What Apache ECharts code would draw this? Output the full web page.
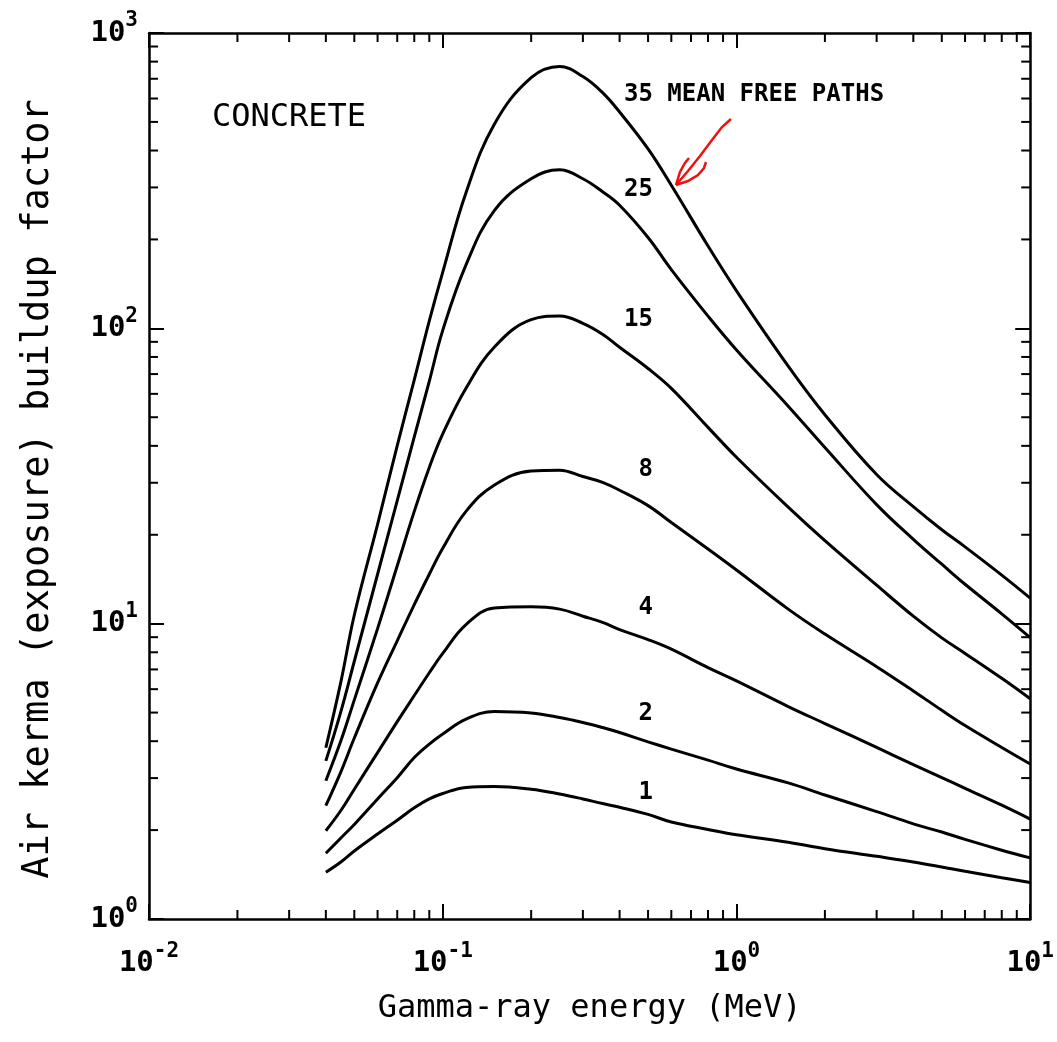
<!DOCTYPE html>
<html>
<head>
<meta charset="utf-8">
<script src="https://cdn.jsdelivr.net/npm/echarts@6/dist/echarts.min.js"></script>
<style>
  html, body { margin: 0; padding: 0; background: #fff; }
  #chart { width: 1057px; height: 1042px; }
</style>
</head>
<body>
<div id="chart"></div>
<script>
// gamma-ray energy (MeV)
const energies = [0.04, 0.045, 0.05, 0.06, 0.07, 0.08, 0.09, 0.1, 0.12, 0.15, 0.2, 0.25, 0.3, 0.35, 0.4,
                  0.5, 0.6, 0.8, 1, 1.5, 2, 3, 4, 5, 6, 8, 10];

// air kerma buildup factor in concrete, one list per thickness (mean free paths)
const mfp1  = [1.44, 1.56, 1.70, 1.94, 2.16, 2.38, 2.55, 2.66, 2.79, 2.81, 2.75, 2.65, 2.55, 2.46, 2.39,
               2.26, 2.13, 2.01, 1.93, 1.82, 1.73, 1.63, 1.56, 1.50, 1.45, 1.38, 1.33];
const mfp2  = [1.67, 1.88, 2.09, 2.55, 3.01, 3.52, 3.91, 4.23, 4.75, 5.04, 4.98, 4.81, 4.63, 4.45, 4.28,
               3.98, 3.76, 3.45, 3.22, 2.89, 2.63, 2.31, 2.10, 1.97, 1.86, 1.71, 1.61];
const mfp4  = [1.99, 2.33, 2.75, 3.66, 4.66, 5.71, 6.82, 7.93, 9.93, 11.3, 11.4, 11.2, 10.6, 10.1, 9.55,
               8.83, 8.2, 7.1, 6.4, 5.24, 4.59, 3.81, 3.33, 3.01, 2.77, 2.43, 2.18];
const mfp8  = [2.42, 3.15, 4.1, 6.3, 8.75, 11.6, 14.7, 18.0, 24.0, 29.5, 32.9, 33.1, 31.5, 30.1, 28.3,
               25.1, 22.0, 17.9, 15.2, 11.2, 9.22, 7.15, 5.92, 5.09, 4.52, 3.81, 3.35];
const mfp15 = [2.94, 4.01, 5.52, 9.62, 15.7, 24.0, 33.8, 43.9, 62.7, 86.5, 107, 110, 104, 95.5, 86.3,
               73.1, 62.6, 46.2, 36.6, 24.8, 19.1, 13.5, 10.6, 8.95, 7.93, 6.53, 5.57];
const mfp25 = [3.43, 5.04, 7.46, 14.7, 26.1, 42.9, 66.2, 98.4, 164, 251, 321, 344, 321, 290, 261,
               203, 158, 110, 84.5, 54.5, 39.5, 25.3, 19.3, 15.9, 13.6, 10.8, 8.97];
const mfp35 = [3.80, 6.35, 10.7, 21.7, 40.1, 66.9, 106, 155, 288, 492, 706, 770, 712, 628, 540,
               405, 305, 190, 134, 74.5, 51, 32, 24.9, 20.8, 18.2, 14.6, 12.2];

const curves = [mfp1, mfp2, mfp4, mfp8, mfp15, mfp25, mfp35];
const curveNames = ['1', '2', '4', '8', '15', '25', '35'];

// axis ranges and minor tick values (2..9 per decade)
const xRange = [0.01, 10];
const yRange = [1, 1000];
const minorX = [0.02, 0.03, 0.04, 0.05, 0.06, 0.07, 0.08, 0.09,
                0.2, 0.3, 0.4, 0.5, 0.6, 0.7, 0.8, 0.9,
                2, 3, 4, 5, 6, 7, 8, 9];
const minorY = [2, 3, 4, 5, 6, 7, 8, 9,
                20, 30, 40, 50, 60, 70, 80, 90,
                200, 300, 400, 500, 600, 700, 800, 900];

const FONT = '"DejaVu Sans Mono", "Liberation Mono", monospace';

const chart = echarts.init(document.getElementById('chart'));

// "10" with exponent
function powLabel(v) {
  return '{b|10}{s|' + Math.round(Math.log10(v)) + '}';
}
const labelRich = {
  b: { fontFamily: FONT, fontSize: 29, fontWeight: 'bold', color: '#000' },
  s: { fontFamily: FONT, fontSize: 21, fontWeight: 'bold', color: '#000', padding: [0, 0, 24, 0] }
};

function minorTickSeries(values, isX) {
  return {
    type: 'custom',
    silent: true,
    clip: false,
    data: values.map(v => isX ? [v, yRange[0]] : [xRange[0], v]),
    renderItem: function (params, api) {
      const v = api.value(isX ? 0 : 1);
      const style = { stroke: '#000', lineWidth: 2 };
      const len = 9;
      if (isX) {
        const a = api.coord([v, yRange[0]]);
        const b = api.coord([v, yRange[1]]);
        return { type: 'group', children: [
          { type: 'line', shape: { x1: a[0], y1: a[1], x2: a[0], y2: a[1] - len }, style: style },
          { type: 'line', shape: { x1: b[0], y1: b[1], x2: b[0], y2: b[1] + len }, style: style }
        ] };
      }
      const a = api.coord([xRange[0], v]);
      const b = api.coord([xRange[1], v]);
      return { type: 'group', children: [
        { type: 'line', shape: { x1: a[0], y1: a[1], x2: a[0] + len, y2: a[1] }, style: style },
        { type: 'line', shape: { x1: b[0], y1: b[1], x2: b[0] - len, y2: b[1] }, style: style }
      ] };
    }
  };
}

const axisLineStyle = { color: '#000', width: 2.5 };
const majorTick = { show: true, inside: true, length: 15, lineStyle: { color: '#000', width: 2 } };

const option = {
  animation: false,
  backgroundColor: '#fff',
  grid: { left: 149, right: 26, top: 33, bottom: 123, containLabel: false },
  xAxis: [
    {
      type: 'log', logBase: 10, min: xRange[0], max: xRange[1],
      name: 'Gamma-ray energy (MeV)', nameLocation: 'middle', nameGap: 74,
      nameTextStyle: { fontFamily: FONT, fontSize: 32, color: '#000' },
      axisLine: { show: true, lineStyle: axisLineStyle },
      axisTick: majorTick,
      splitLine: { show: false },
      axisLabel: { margin: 22, formatter: powLabel, rich: labelRich }
    },
    {
      type: 'log', logBase: 10, min: xRange[0], max: xRange[1], position: 'top',
      axisLine: { show: true, lineStyle: axisLineStyle },
      axisTick: majorTick, axisLabel: { show: false }, splitLine: { show: false }
    }
  ],
  yAxis: [
    {
      type: 'log', logBase: 10, min: yRange[0], max: yRange[1],
      name: 'Air kerma (exposure) buildup factor', nameLocation: 'middle', nameGap: 92,
      nameRotate: 90,
      nameTextStyle: { fontFamily: FONT, fontSize: 37, color: '#000', padding: [0, 26, 0, 0] },
      axisLine: { show: true, lineStyle: axisLineStyle },
      axisTick: majorTick,
      splitLine: { show: false },
      axisLabel: { margin: 11, formatter: powLabel, rich: labelRich }
    },
    {
      type: 'log', logBase: 10, min: yRange[0], max: yRange[1], position: 'right',
      axisLine: { show: true, lineStyle: axisLineStyle },
      axisTick: majorTick, axisLabel: { show: false }, splitLine: { show: false }
    }
  ],
  series: curves.map((vals, k) => ({
    name: curveNames[k],
    type: 'line',
    xAxisIndex: 0, yAxisIndex: 0,
    smooth: 0.4,
    showSymbol: false,
    lineStyle: { color: '#000', width: 3 },
    data: energies.map((e, i) => [e, vals[i]])
  })).concat([minorTickSeries(minorX, true), minorTickSeries(minorY, false)]),
  graphic: [
    { type: 'text', left: 212, top: 102, style: { text: 'CONCRETE', font: '32px ' + FONT, fill: '#000' } },
    { type: 'text', x: 624, y: 95, style: { text: '35 MEAN FREE PATHS', font: 'bold 24px ' + FONT, fill: '#000', textVerticalAlign: 'middle' } },
    { type: 'text', x: 653, y: 190, style: { text: '25', font: 'bold 24px ' + FONT, fill: '#000', textAlign: 'right', textVerticalAlign: 'middle' } },
    { type: 'text', x: 653, y: 320, style: { text: '15', font: 'bold 24px ' + FONT, fill: '#000', textAlign: 'right', textVerticalAlign: 'middle' } },
    { type: 'text', x: 653, y: 470, style: { text: '8', font: 'bold 24px ' + FONT, fill: '#000', textAlign: 'right', textVerticalAlign: 'middle' } },
    { type: 'text', x: 653, y: 608, style: { text: '4', font: 'bold 24px ' + FONT, fill: '#000', textAlign: 'right', textVerticalAlign: 'middle' } },
    { type: 'text', x: 653, y: 714, style: { text: '2', font: 'bold 24px ' + FONT, fill: '#000', textAlign: 'right', textVerticalAlign: 'middle' } },
    { type: 'text', x: 653, y: 793, style: { text: '1', font: 'bold 24px ' + FONT, fill: '#000', textAlign: 'right', textVerticalAlign: 'middle' } },
    // hand-drawn red arrow
    { type: 'polyline', shape: { points: [[731, 119], [722, 127], [712, 140], [700, 156], [688, 171], [676, 185]] },
      style: { stroke: '#ee1111', lineWidth: 2.5, fill: null } },
    { type: 'polyline', shape: { points: [[676, 185], [680, 172], [685, 163], [689, 158]] },
      style: { stroke: '#ee1111', lineWidth: 2.5, fill: null } },
    { type: 'polyline', shape: { points: [[676, 185], [688, 181], [698, 175], [704, 168], [706, 162]] },
      style: { stroke: '#ee1111', lineWidth: 2.5, fill: null } }
  ]
};

chart.setOption(option);
</script>
</body>
</html>
